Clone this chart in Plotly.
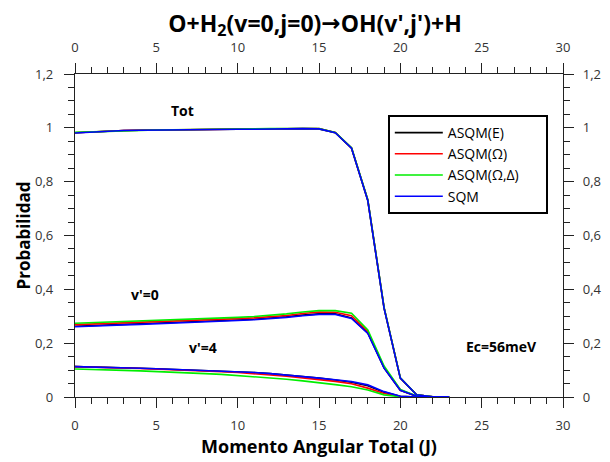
import plotly.graph_objects as go

J = list(range(0, 24))

# Total probability
tot_E   = [0.982,0.985,0.988,0.990,0.991,0.992,0.993,0.993,0.994,0.994,0.995,0.995,0.996,0.997,0.997,0.996,0.982,0.924,0.730,0.330,0.070,0.008,0.001,0.0]
tot_O   = [0.982,0.985,0.988,0.990,0.991,0.992,0.993,0.994,0.994,0.995,0.995,0.996,0.996,0.997,0.998,0.997,0.983,0.925,0.732,0.332,0.070,0.008,0.001,0.0]
tot_OD  = [0.983,0.985,0.988,0.990,0.991,0.992,0.993,0.994,0.994,0.995,0.995,0.996,0.997,0.997,0.998,0.997,0.983,0.926,0.733,0.333,0.071,0.008,0.001,0.0]
tot_SQM = [0.981,0.984,0.988,0.990,0.991,0.992,0.993,0.993,0.994,0.994,0.995,0.995,0.996,0.997,0.997,0.996,0.982,0.924,0.730,0.330,0.070,0.008,0.001,0.0]

# v'=0
v0_E   = [0.263,0.266,0.268,0.270,0.272,0.274,0.276,0.278,0.280,0.283,0.286,0.289,0.293,0.298,0.304,0.309,0.309,0.294,0.238,0.108,0.025,0.003,0.0,0.0]
v0_O   = [0.269,0.271,0.274,0.276,0.278,0.280,0.282,0.284,0.286,0.288,0.291,0.294,0.298,0.303,0.310,0.316,0.315,0.302,0.243,0.110,0.026,0.003,0.0,0.0]
v0_OD  = [0.274,0.276,0.279,0.281,0.283,0.285,0.287,0.289,0.291,0.293,0.296,0.299,0.303,0.309,0.316,0.321,0.321,0.311,0.249,0.115,0.028,0.004,0.0,0.0]
v0_SQM = [0.261,0.264,0.266,0.268,0.270,0.272,0.274,0.276,0.278,0.281,0.284,0.287,0.291,0.296,0.302,0.307,0.307,0.292,0.236,0.107,0.025,0.003,0.0,0.0]

# v'=4
v4_E   = [0.113,0.112,0.111,0.109,0.107,0.105,0.103,0.100,0.098,0.096,0.094,0.091,0.087,0.082,0.076,0.070,0.063,0.055,0.042,0.018,0.003,0.0,0.0,0.0]
v4_O   = [0.113,0.112,0.110,0.108,0.106,0.104,0.101,0.099,0.097,0.094,0.091,0.087,0.082,0.077,0.071,0.065,0.058,0.049,0.033,0.013,0.002,0.0,0.0,0.0]
v4_OD  = [0.104,0.103,0.101,0.099,0.097,0.095,0.093,0.090,0.087,0.084,0.080,0.076,0.071,0.066,0.060,0.054,0.046,0.038,0.026,0.008,0.001,0.0,0.0,0.0]
v4_SQM = [0.113,0.112,0.111,0.109,0.107,0.105,0.103,0.100,0.098,0.096,0.094,0.091,0.087,0.082,0.076,0.070,0.064,0.057,0.045,0.020,0.003,0.0,0.0,0.0]

methods = ["ASQM(E)", "ASQM(Ω)", "ASQM(Ω,Δ)", "SQM"]
colors = ["#000000", "#ff0000", "#00ee00", "#0000ff"]
series = [
    (tot_E, v0_E, v4_E),
    (tot_O, v0_O, v4_O),
    (tot_OD, v0_OD, v4_OD),
    (tot_SQM, v0_SQM, v4_SQM),
]

x_ticks = [0, 5, 10, 15, 20, 25, 30]
y_ticks = [0, 0.2, 0.4, 0.6, 0.8, 1.0, 1.2]

FONT = "Open Sans"
PAD = "\u00a0" * 6  # invisible padding to widen the legend box like the reference
fig = go.Figure()
for name, col, curves in zip(methods, colors, series):
    xs, ys = [], []
    for c in curves:
        xs += J + [None]
        ys += c + [None]
    fig.add_trace(go.Scatter(x=xs, y=ys, mode="lines", name=name + PAD,
                             line=dict(color=col, width=1.6)))

# dummy trace for the mirrored labelled axes
fig.add_trace(go.Scatter(x=[None], y=[None], xaxis="x2", yaxis="y2",
                         showlegend=False, hoverinfo="skip"))

tickfont = dict(family=FONT, size=13, color="#333")
common = dict(showline=True, linecolor="#222", linewidth=1.3, ticks="outside",
              ticklen=10, tickwidth=1.3, tickcolor="#222", showgrid=False,
              zeroline=False, tickfont=tickfont, automargin=False)
xminor = dict(dtick=1, ticklen=6, ticks="outside", tickcolor="#222", tickwidth=1.2)
yminor = dict(dtick=0.05, ticklen=6, ticks="outside", tickcolor="#222", tickwidth=1.2)

# page has an 8px body margin: figure is sized so the plot lands where the reference has it
fig.update_layout(
    width=602, height=454,
    margin=dict(l=67, r=47, t=66, b=65),
    paper_bgcolor="white", plot_bgcolor="white",
    separators=",.",
    title=dict(text="<b>O+H<sub>2</sub>(v=0,j=0)<span style='font-family:DejaVu Sans'>→</span>OH(v',j')+H</b>",
               x=0.51, xanchor="center", y=0.966, yanchor="middle",
               font=dict(family=FONT, size=23, color="#000")),
    xaxis=dict(range=[0, 30], tickvals=x_ticks, **common, minor=xminor,
               ticklabelstandoff=6,
               title=dict(text="<b>Momento Angular Total (J)</b>",
                          font=dict(family=FONT, size=18, color="#000"), standoff=7)),
    yaxis=dict(range=[0, 1.2], tickvals=y_ticks, **common, minor=yminor,
               ticklabelstandoff=8,
               title=dict(text="<b>Probabilidad</b>",
                          font=dict(family=FONT, size=17, color="#000"), standoff=0)),
    xaxis2=dict(range=[0, 30], tickvals=x_ticks, overlaying="x", side="top", **common,
                minor=xminor, ticklabelstandoff=6),
    yaxis2=dict(range=[0, 1.2], tickvals=y_ticks, overlaying="y", side="right", **common,
                minor=yminor, ticklabelstandoff=6),
    legend=dict(x=0.641, y=0.873, xanchor="left", yanchor="top",
                bgcolor="white", bordercolor="#000", borderwidth=2,
                font=dict(family=FONT, size=14, color="#000"),
                tracegroupgap=0, itemwidth=48),
    showlegend=True,
)

ann_font = dict(family=FONT, size=14, color="#000")
fig.add_annotation(x=6.6, y=1.066, text="<b>Tot</b>", showarrow=False, font=ann_font)
fig.add_annotation(x=4.28, y=0.379, text="<b>v'=0</b>", showarrow=False, font=ann_font)
fig.add_annotation(x=7.85, y=0.185, text="<b>v'=4</b>", showarrow=False, font=ann_font)
fig.add_annotation(x=26.2, y=0.186, text="<b>Ec=56meV</b>", showarrow=False, font=ann_font)

fig.write_html("out.html")
